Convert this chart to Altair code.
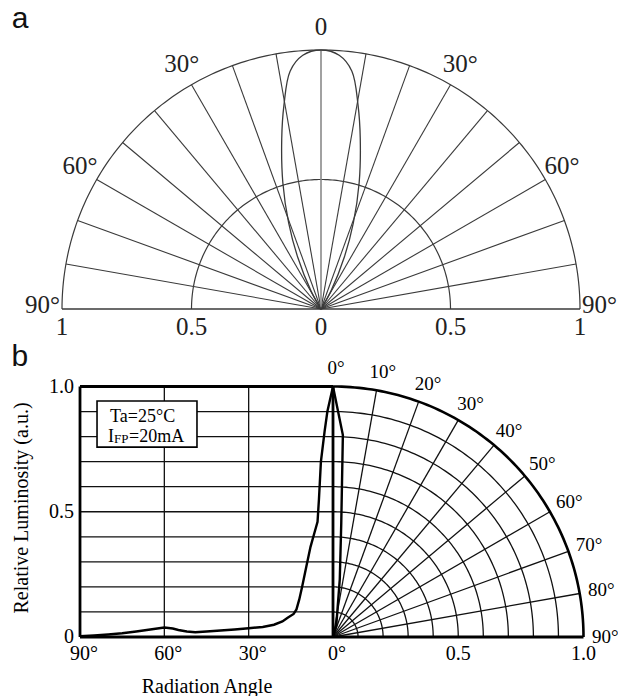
import altair as alt
import numpy as np
import pandas as pd

# ---------------- data ----------------
# Panel a : polar diagram (0 = on axis, +/-90 deg at the sides)
a_rings = [0.5, 1.0]
a_spokes = [-80, -70, -60, -50, -40, -30, -20, -10, 10, 20, 30, 40, 50, 60, 70, 80]
a_lobe_angle = [-32, -29, -24.2, -20.6, -16.8, -13, -10.3, -7.4, -4.1, 0,
                4.1, 7.4, 10.3, 13, 16.8, 20.6, 24.2, 29, 32]
a_lobe_r = [0, 0.08, 0.22, 0.355, 0.51, 0.674, 0.80, 0.926, 0.982, 1.0,
            0.982, 0.926, 0.80, 0.674, 0.51, 0.355, 0.22, 0.08, 0]
a_angle_ticks = [0, -30, 30, -60, 60, -90, 90]
a_angle_text = ["0", "30°", "30°", "60°", "60°", "90°", "90°"]
a_radius_ticks = [-1, -0.5, 0, 0.5, 1]
a_radius_text = ["1", "0.5", "0", "0.5", "1"]

# Panel b : left = cartesian luminosity vs angle, right = polar quadrant
b_left_angle = [90, 85, 80, 75, 70, 65, 60, 57, 55, 52, 49, 45, 40, 35, 30, 25, 21,
                18, 16, 14, 13, 12, 11, 9.5, 8, 6.5, 5.5, 5, 4.3, 3, 2, 0]
b_left_lum = [0.003, 0.006, 0.010, 0.015, 0.022, 0.030, 0.038, 0.034, 0.028, 0.022,
              0.019, 0.022, 0.026, 0.030, 0.035, 0.040, 0.049, 0.062, 0.078, 0.092,
              0.11, 0.15, 0.20, 0.28, 0.36, 0.42, 0.46, 0.55, 0.70, 0.82, 0.90, 1.0]
b_right_angle = [0, 2.8, 4.15, 6.7, 16, 25]
b_right_r = [1.0, 0.807, 0.456, 0.232, 0.047, 0.0]
b_levels = [0.1, 0.2, 0.3, 0.4, 0.5, 0.6, 0.7, 0.8, 0.9]
b_spokes = [10, 20, 30, 40, 50, 60, 70, 80]
b_vgrid_angle = [60, 30]
b_xtick_angle = [90, 60, 30, 0]
b_xtick_angle_text = ["90°", "60°", "30°", "0°"]
b_xtick_radius = [0.5, 1.0]
b_xtick_radius_text = ["0.5", "1.0"]
b_ytick = [0, 0.5, 1.0]
b_ytick_text = ["0", "0.5", "1.0"]
b_polar_ticks = [0, 10, 20, 30, 40, 50, 60, 70, 80, 90]
b_polar_text = ["0°", "10°", "20°", "30°", "40°", "50°", "60°", "70°", "80°", "90°"]

# ---------------- geometry / style ----------------
W, H = 618, 696
# panel a frame: centre (321, 309) px, radius 259 px
A_CX, A_CY, A_R = 321, 309, 259
# panel b frame: origin (333, 637) px, 250.5 px per unit
B_CX, B_CY, B_R = 333, 637, 250.5
LEFT = (B_CX - 80) / B_R  # width of the cartesian half in radius units

SAX = alt.Scale(domain=[-A_CX / A_R, (W - A_CX) / A_R], nice=False, zero=False)
SAY = alt.Scale(domain=[(A_CY - H) / A_R, A_CY / A_R], nice=False, zero=False)
SBX = alt.Scale(domain=[-B_CX / B_R, (W - B_CX) / B_R], nice=False, zero=False)
SBY = alt.Scale(domain=[(B_CY - H) / B_R, B_CY / B_R], nice=False, zero=False)

SERIF = "Liberation Serif"
SANS = "Liberation Sans"
GREYA = "#3a3a3a"


def xa(f):
    return alt.X(f, type="quantitative", scale=SAX, axis=None)


def ya(f):
    return alt.Y(f, type="quantitative", scale=SAY, axis=None)


def xb(f):
    return alt.X(f, type="quantitative", scale=SBX, axis=None)


def yb(f):
    return alt.Y(f, type="quantitative", scale=SBY, axis=None)


PX = "datum.r*sin(datum.t*PI/180)"
PY = "datum.r*cos(datum.t*PI/180)"

layers = []

# ======== panel a ========
ring_df = pd.DataFrame([(r, t) for r in a_rings for t in range(-90, 91)], columns=["r", "t"])
layers.append(
    alt.Chart(ring_df).mark_line(color=GREYA, strokeWidth=1.2)
    .transform_calculate(x=PX, y=PY)
    .encode(x=xa("x"), y=ya("y"), detail="r:N", order="t:Q")
)
spk_df = pd.DataFrame({"t": a_spokes, "r": 1.0, "z": 0.0})
layers.append(
    alt.Chart(spk_df).mark_rule(color=GREYA, strokeWidth=1.1)
    .transform_calculate(x=PX, y=PY)
    .encode(x=xa("z"), y=ya("z"), x2="x:Q", y2="y:Q")
)
layers.append(
    alt.Chart(pd.DataFrame({"t": [0], "r": [1.0], "z": [0.0]})).mark_rule(color="#8a8a8a", strokeWidth=1.6)
    .transform_calculate(x=PX, y=PY)
    .encode(x=xa("z"), y=ya("z"), x2="x:Q", y2="y:Q")
)
layers.append(
    alt.Chart(pd.DataFrame({"x0": [-1.0], "x1": [1.0], "y": [0.0]})).mark_rule(color=GREYA, strokeWidth=1.3)
    .encode(x=xa("x0"), x2="x1:Q", y=ya("y"))
)
lobe_df = pd.DataFrame({"t": a_lobe_angle, "r": a_lobe_r, "i": range(len(a_lobe_r))})
layers.append(
    alt.Chart(lobe_df).mark_line(color=GREYA, strokeWidth=1.3, interpolate="catmull-rom")
    .transform_calculate(x=PX, y=PY)
    .encode(x=xa("x"), y=ya("y"), order="i:Q")
)
alab_df = pd.DataFrame({"t": a_angle_ticks, "lab": a_angle_text, "r": 1.075})
layers.append(
    alt.Chart(alab_df).mark_text(font=SERIF, fontSize=25, color="#222", baseline="middle", dy=-4)
    .transform_calculate(x=PX, y=PY)
    .encode(x=xa("x"), y=ya("y"), text="lab:N")
)
arad_df = pd.DataFrame({"x": a_radius_ticks, "lab": a_radius_text, "y": 0.0})
layers.append(
    alt.Chart(arad_df).mark_text(font=SERIF, fontSize=25, color="#222", baseline="middle", dy=18)
    .encode(x=xa("x"), y=ya("y"), text="lab:N")
)
layers.append(
    alt.Chart(pd.DataFrame({"x": [-1.162], "y": [1.12], "lab": ["a"]}))
    .mark_text(font=SANS, fontSize=30, color="#111", baseline="middle")
    .encode(x=xa("x"), y=ya("y"), text="lab:N")
)

# ======== panel b ========
hg_df = pd.DataFrame({"v": b_levels, "u0": -LEFT, "u1": 0.0})
layers.append(
    alt.Chart(hg_df).mark_rule(color="#111", strokeWidth=1.3)
    .encode(x=xb("u0"), x2="u1:Q", y=yb("v"))
)
vg_df = pd.DataFrame({"a": b_vgrid_angle, "v0": 0.0, "v1": 1.0})
layers.append(
    alt.Chart(vg_df).mark_rule(color="#111", strokeWidth=1.3)
    .transform_calculate(u=f"-datum.a/90*{LEFT}")
    .encode(x=xb("u"), y=yb("v0"), y2="v1:Q")
)
barc_df = pd.DataFrame([(r, t) for r in b_levels for t in range(0, 91)], columns=["r", "t"])
layers.append(
    alt.Chart(barc_df).mark_line(color="#111", strokeWidth=1.3)
    .transform_calculate(x=PX, y=PY)
    .encode(x=xb("x"), y=yb("y"), detail="r:N", order="t:Q")
)
bspk_df = pd.DataFrame({"t": b_spokes, "r": 1.0, "z": 0.0})
layers.append(
    alt.Chart(bspk_df).mark_rule(color="#111", strokeWidth=1.3)
    .transform_calculate(x=PX, y=PY)
    .encode(x=xb("z"), y=yb("z"), x2="x:Q", y2="y:Q")
)
# heavy frame
outer_df = pd.DataFrame({"t": list(range(0, 91)), "r": 1.0})
layers.append(
    alt.Chart(outer_df).mark_line(color="#000", strokeWidth=2.6)
    .transform_calculate(x=PX, y=PY)
    .encode(x=xb("x"), y=yb("y"), order="t:Q")
)
frame_df = pd.DataFrame({
    "u0": [-LEFT, -LEFT, -LEFT, 0.0],
    "u1": [-LEFT, 0.0, 1.0, 0.0],
    "v0": [0.0, 1.0, 0.0, 0.0],
    "v1": [1.0, 1.0, 0.0, 1.0],
})
layers.append(
    alt.Chart(frame_df).mark_rule(color="#000", strokeWidth=2.8)
    .encode(x=xb("u0"), x2="u1:Q", y=yb("v0"), y2="v1:Q")
)
# measured curves
bl_df = pd.DataFrame({"a": b_left_angle, "L": b_left_lum, "i": range(len(b_left_lum))})
layers.append(
    alt.Chart(bl_df).mark_line(color="#000", strokeWidth=2.4)
    .transform_calculate(u=f"-datum.a/90*{LEFT}")
    .encode(x=xb("u"), y=yb("L"), order="i:Q")
)
br_df = pd.DataFrame({"t": b_right_angle, "r": b_right_r, "i": range(len(b_right_r))})
layers.append(
    alt.Chart(br_df).mark_line(color="#000", strokeWidth=2.4)
    .transform_calculate(x=PX, y=PY)
    .encode(x=xb("x"), y=yb("y"), order="i:Q")
)
# legend box
box_df = pd.DataFrame({"u0": [-0.942], "u1": [-0.543], "v0": [0.758], "v1": [0.942]})
layers.append(
    alt.Chart(box_df).mark_rect(fill="white", stroke="#000", strokeWidth=1.6)
    .encode(x=xb("u0"), x2="u1:Q", y=yb("v0"), y2="v1:Q")
)
leg_df = pd.DataFrame({"u": [-0.890], "v": [0.878], "lab": ["Ta=25°C"]})
layers.append(
    alt.Chart(leg_df).mark_text(font=SERIF, fontSize=18, color="#000", align="left", baseline="middle")
    .encode(x=xb("u"), y=yb("v"), text="lab:N")
)
leg2_df = pd.DataFrame({"u": [-0.898], "v": [0.798], "lab": ["I"]})
layers.append(
    alt.Chart(leg2_df).mark_text(font=SERIF, fontSize=18, color="#000", align="left", baseline="middle")
    .encode(x=xb("u"), y=yb("v"), text="lab:N")
)
layers.append(
    alt.Chart(leg2_df.assign(lab="FP")).mark_text(font=SERIF, fontSize=13, color="#000", align="left",
                                                  baseline="middle", dx=6, dy=1.5)
    .encode(x=xb("u"), y=yb("v"), text="lab:N")
)
layers.append(
    alt.Chart(leg2_df.assign(lab="=20mA")).mark_text(font=SERIF, fontSize=18, color="#000", align="left",
                                                    baseline="middle", dx=21)
    .encode(x=xb("u"), y=yb("v"), text="lab:N")
)
# tick labels
bxa_df = pd.DataFrame({"a": b_xtick_angle, "lab": b_xtick_angle_text, "v": 0.0})
layers.append(
    alt.Chart(bxa_df).mark_text(font=SERIF, fontSize=20, color="#000", baseline="middle", dx=4, dy=17)
    .transform_calculate(u=f"-datum.a/90*{LEFT}")
    .encode(x=xb("u"), y=yb("v"), text="lab:N")
)
bxr_df = pd.DataFrame({"u": b_xtick_radius, "lab": b_xtick_radius_text, "v": 0.0})
layers.append(
    alt.Chart(bxr_df).mark_text(font=SERIF, fontSize=20, color="#000", baseline="middle", dy=17)
    .encode(x=xb("u"), y=yb("v"), text="lab:N")
)
bya_df = pd.DataFrame({"v": b_ytick, "lab": b_ytick_text, "u": -LEFT})
layers.append(
    alt.Chart(bya_df).mark_text(font=SERIF, fontSize=20, color="#000", align="right", baseline="middle", dx=-6)
    .encode(x=xb("u"), y=yb("v"), text="lab:N")
)
bpl_df = pd.DataFrame({"t": b_polar_ticks, "lab": b_polar_text, "r": 1.075})
layers.append(
    alt.Chart(bpl_df).mark_text(font=SERIF, fontSize=19, color="#000", baseline="middle", dx=3)
    .transform_calculate(x=PX, y=PY)
    .encode(x=xb("x"), y=yb("y"), text="lab:N")
)
# titles and panel letter
layers.append(
    alt.Chart(pd.DataFrame({"u": [-1.2415], "v": [0.515], "lab": ["Relative Luminosity (a.u.)"]}))
    .mark_text(font=SERIF, fontSize=20, color="#000", angle=270, baseline="middle")
    .encode(x=xb("u"), y=yb("v"), text="lab:N")
)
layers.append(
    alt.Chart(pd.DataFrame({"u": [-0.503], "v": [-0.2], "lab": ["Radiation Angle"]}))
    .mark_text(font=SERIF, fontSize=20, color="#000", baseline="middle")
    .encode(x=xb("u"), y=yb("v"), text="lab:N")
)
layers.append(
    alt.Chart(pd.DataFrame({"u": [-1.25], "v": [1.116], "lab": ["b"]}))
    .mark_text(font=SANS, fontSize=30, color="#111", baseline="middle")
    .encode(x=xb("u"), y=yb("v"), text="lab:N")
)

chart = (
    alt.layer(*layers)
    .resolve_scale(x="independent", y="independent")
    .properties(width=W, height=H, autosize=alt.AutoSizeParams(type="none"), padding=0,
                background="white")
    .configure_view(stroke=None)
)

chart.save("out.html", embed_options={"renderer": "svg", "actions": False})
